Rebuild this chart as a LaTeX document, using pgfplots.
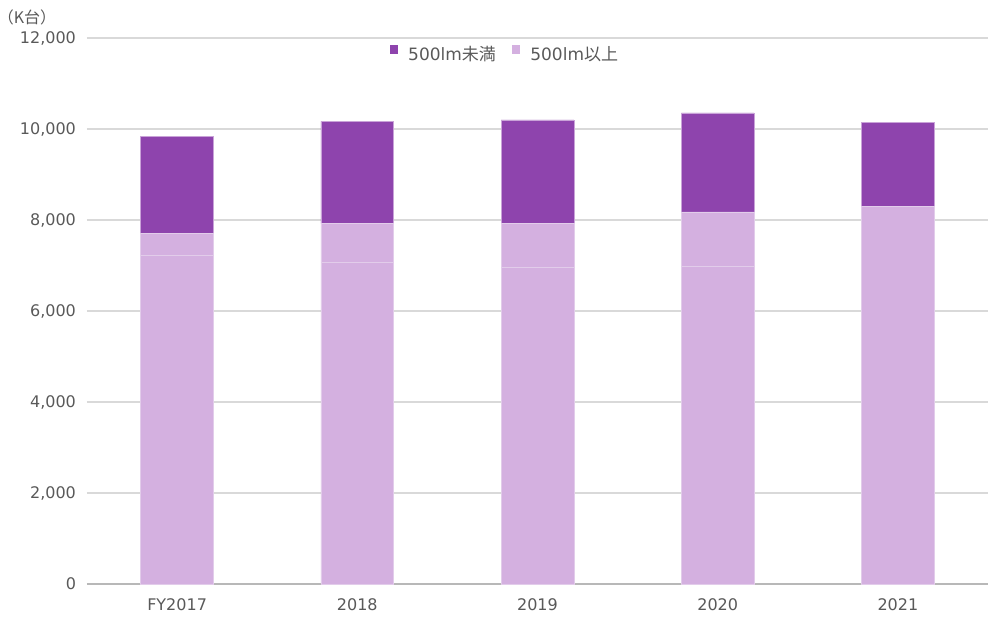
\documentclass[border=0pt]{standalone}
\usepackage{pgfplots}
\pgfplotsset{compat=1.18}
\usepackage{fontspec}
\setmainfont{DejaVu Sans}
\newfontfamily\jp{Noto Sans CJK JP}

\definecolor{darkp}{HTML}{8E44AD}
\definecolor{lightp}{HTML}{D4B0E0}
\definecolor{edgep}{HTML}{E2CCEA}
\definecolor{txt}{HTML}{595959}
\definecolor{grid}{HTML}{D9D9D9}

\begin{document}
\begin{tikzpicture}
\begin{axis}[
    at={(0,0)}, anchor=south west,
    width=450.5pt, height=273pt, scale only axis,
    ybar stacked,
    bar width=0.404,
    xmin=-0.5, xmax=4.5,
    ymin=0, ymax=12000,
    xtick=data,
    xticklabels={FY2017,2018,2019,2020,2021},
    ytick={0,2000,4000,6000,8000,10000,12000},
    scaled y ticks=false,
    yticklabel style={xshift=-2pt, /pgf/number format/.cd, fixed, 1000 sep={,}, assume math mode=true},
    axis x line*=bottom,
    axis y line*=left,
    y axis line style={draw=none},
    x axis line style={draw=grid!85!black, line width=0.6pt},
    ymajorgrids,
    grid style={draw=grid, line width=0.6pt},
    major tick length=0pt,
    tick label style={font=\fontsize{8}{9.6}\selectfont, text=txt},
    xticklabel style={yshift=-4pt},
    legend style={at={(0.465,0.969)}, anchor=center, draw=none, fill=none,
      legend columns=-1, font=\fontsize{8.5}{10}\selectfont, text=txt,
      /tikz/every even column/.style={column sep=6pt},
      /tikz/every odd column/.style={column sep=3pt}},
    legend image code/.code={\fill[#1] (-1pt,0.6pt) rectangle (3.2pt,4.8pt);},
    clip=false,
]
\addlegendimage{fill=darkp, draw=none}
\addlegendentry{500lm{\jp 未満}}
\addlegendimage{fill=lightp, draw=none}
\addlegendentry{500lm{\jp 以上}}

\addplot[fill=lightp, draw=edgep, line width=0.35pt] coordinates {(0,7224) (1,7070) (2,6967) (3,6989) (4,8301)};
\addplot[fill=lightp, draw=edgep, line width=0.35pt] coordinates {(0,490) (1,849) (2,958) (3,1187) (4,0)};
\addplot[fill=darkp, draw=edgep!70!darkp, line width=0.35pt] coordinates {(0,2132) (1,2250) (2,2273) (3,2176) (4,1846)};
\end{axis}
\node[text=txt, font=\fontsize{8}{9.6}\selectfont] at (-30pt,283.5pt) {{\jp （K台）}};
\pgfresetboundingbox
\path (-43.5pt,-19.5pt) rectangle (451pt,292pt);
\end{tikzpicture}
\end{document}
